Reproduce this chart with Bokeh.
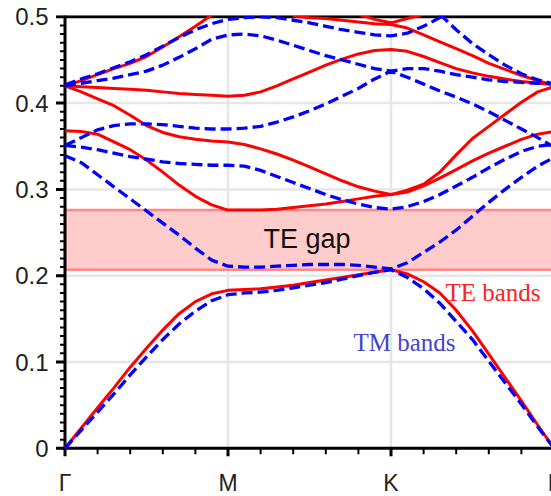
from bokeh.plotting import figure
from bokeh.models import Range1d
from bokeh.core.properties import value
from bokeh.embed import file_html
from bokeh.resources import INLINE

# Wave-vector path Γ -> M -> K -> Γ, each segment drawn with unit length
k = [0.0, 0.1, 0.2, 0.3, 0.4, 0.5, 0.6, 0.7, 0.8, 0.9,
     1.0, 1.1, 1.2, 1.3, 1.4, 1.5, 1.6, 1.7, 1.8, 1.9,
     2.0, 2.1, 2.2, 2.3, 2.4, 2.5, 2.6, 2.7, 2.8, 2.9, 3.0]
k_ticks = [0, 1, 2, 3]
k_labels = ["Γ", "M", "K", "Γ"]
freq_ticks = [0.0, 0.1, 0.2, 0.3, 0.4, 0.5]
freq_labels = ["0", "0.1", "0.2", "0.3", "0.4", "0.5"]

# TE bands (normalised frequency a/λ)
te_1 = [0.0, 0.0235, 0.047, 0.070, 0.094, 0.116, 0.137, 0.156, 0.170, 0.179,
        0.183, 0.184, 0.185, 0.187, 0.189, 0.192, 0.195, 0.198, 0.201, 0.204,
        0.207, 0.202, 0.193, 0.180, 0.160, 0.136, 0.109, 0.082, 0.055, 0.027, 0.0]
te_2 = [0.368, 0.367, 0.364, 0.355, 0.346, 0.334, 0.320, 0.305, 0.292, 0.282,
        0.276, 0.276, 0.276, 0.277, 0.279, 0.281, 0.283, 0.286, 0.289, 0.292,
        0.294, 0.297, 0.304, 0.313, 0.323, 0.333, 0.342, 0.350, 0.358, 0.364, 0.367]
te_3 = [0.420, 0.413, 0.405, 0.397, 0.386, 0.374, 0.366, 0.361, 0.358, 0.356,
        0.355, 0.352, 0.347, 0.341, 0.334, 0.326, 0.318, 0.310, 0.303, 0.298,
        0.294, 0.299, 0.306, 0.320, 0.340, 0.359, 0.373, 0.387, 0.401, 0.413, 0.419]
te_4 = [0.420, 0.419, 0.418, 0.417, 0.416, 0.415, 0.413, 0.411, 0.410, 0.409,
        0.408, 0.409, 0.413, 0.420, 0.428, 0.436, 0.444, 0.451, 0.457, 0.461,
        0.462, 0.460, 0.454, 0.447, 0.440, 0.435, 0.431, 0.428, 0.425, 0.423, 0.422]
te_5 = [0.420, 0.426, 0.433, 0.440, 0.446, 0.454, 0.465, 0.477, 0.489, 0.502, 0.515]
te_6 = [0.501, 0.499, 0.498, 0.496, 0.494, 0.492, 0.491, 0.487, 0.479, 0.471,
        0.463, 0.455, 0.446, 0.439, 0.432, 0.426, 0.421]
te_7 = [0.503, 0.497, 0.493, 0.498, 0.503]

# TM bands
tm_1 = [0.0, 0.021, 0.042, 0.063, 0.085, 0.106, 0.126, 0.144, 0.159, 0.171,
        0.178, 0.180, 0.181, 0.183, 0.186, 0.189, 0.192, 0.196, 0.200, 0.204,
        0.207, 0.198, 0.185, 0.168, 0.147, 0.126, 0.101, 0.076, 0.051, 0.025, 0.0]
tm_2 = [0.339, 0.331, 0.317, 0.303, 0.289, 0.275, 0.261, 0.247, 0.232, 0.218,
        0.211, 0.210, 0.210, 0.211, 0.212, 0.213, 0.213, 0.213, 0.212, 0.210,
        0.208, 0.215, 0.227, 0.239, 0.253, 0.269, 0.285, 0.300, 0.314, 0.327, 0.337]
tm_3 = [0.351, 0.349, 0.346, 0.342, 0.338, 0.335, 0.332, 0.330, 0.329, 0.328,
        0.328, 0.327, 0.322, 0.315, 0.308, 0.301, 0.294, 0.288, 0.283, 0.279,
        0.277, 0.280, 0.286, 0.294, 0.304, 0.314, 0.325, 0.335, 0.344, 0.350, 0.352]
tm_4 = [0.351, 0.360, 0.369, 0.374, 0.376, 0.376, 0.375, 0.373, 0.371, 0.370,
        0.370, 0.371, 0.373, 0.378, 0.384, 0.391, 0.399, 0.408, 0.417, 0.428,
        0.437, 0.430, 0.422, 0.414, 0.407, 0.399, 0.390, 0.380, 0.370, 0.360, 0.349]
tm_5 = [0.420, 0.423, 0.426, 0.429, 0.433, 0.437, 0.444, 0.453, 0.463, 0.474,
        0.479, 0.480, 0.478, 0.473, 0.467, 0.461, 0.455, 0.450, 0.445, 0.440,
        0.437, 0.440, 0.440, 0.437, 0.433, 0.430, 0.427, 0.425, 0.424, 0.423, 0.422]
tm_6 = [0.421, 0.428, 0.434, 0.441, 0.448, 0.456, 0.466, 0.476, 0.485, 0.492,
        0.497, 0.499, 0.500, 0.499, 0.496, 0.493, 0.489, 0.485, 0.482, 0.479,
        0.478, 0.481, 0.489, 0.499, 0.510]
tm_7 = [0.503, 0.485, 0.469, 0.456, 0.444, 0.434, 0.427, 0.422]

# Complete TE band gap
gap_low = 0.207
gap_high = 0.276

te_bands = [(k, te_1), (k, te_2), (k, te_3), (k, te_4),
            (k[0:11], te_5), (k[14:31], te_6), (k[18:23], te_7)]
tm_bands = [(k, tm_1), (k, tm_2), (k, tm_3), (k, tm_4), (k, tm_5),
            (k[0:25], tm_6), (k[23:31], tm_7)]

# --- layout: the frame fills the whole canvas; axes are drawn as glyphs ---
W, H = 551, 496
ox, oy = 64.5, 447.8          # canvas position of (k=0, f=0)
px_k, px_f = 163.0, 863.0     # pixels per unit of k and of f
x_rng = Range1d(-ox / px_k, (W - ox) / px_k)
y_rng = Range1d(-(H - oy) / px_f, oy / px_f)

p = figure(width=W, height=H, x_range=x_rng, y_range=y_rng,
           output_backend="svg", toolbar_location=None,
           min_border_left=0, min_border_right=0, min_border_top=0, min_border_bottom=0)
p.xaxis.visible = False
p.yaxis.visible = False
p.grid.visible = False
p.outline_line_color = None
p.background_fill_color = "white"
p.border_fill_color = "white"

k0, k1 = k[0], k[-1]
f0, f1 = freq_ticks[0], freq_ticks[-1]
grid_col = "#e6e6e6"

# grid lines
p.segment(x0=k0, x1=k1, y0=freq_ticks[1:5], y1=freq_ticks[1:5],
          line_color=grid_col, line_width=2.5, level="underlay")
p.segment(x0=k_ticks[1:3], x1=k_ticks[1:3], y0=f0, y1=f1,
          line_color=grid_col, line_width=2.5, level="underlay")

# band gap shading
p.quad(left=k0, right=k1, bottom=gap_low, top=gap_high,
       fill_color="#ffcccc", line_color="#ff8888", line_width=2.5)

# axis frame: left, bottom and top lines
p.segment(x0=[k0, k0, k0], x1=[k0, k1, k1], y0=[f0, f0, f1], y1=[f1, f0, f1],
          line_color="black", line_width=3, line_cap="square")

# ticks (pointing outwards)
minor_f = [i / 100 for i in range(51)]
minor_k = k[::2]
p.segment(x0=-9 / px_k, x1=k0, y0=freq_ticks, y1=freq_ticks, line_color="black", line_width=3)
p.segment(x0=-5 / px_k, x1=k0, y0=minor_f, y1=minor_f, line_color="black", line_width=2)
p.segment(x0=k_ticks, x1=k_ticks, y0=-8 / px_f, y1=f0, line_color="black", line_width=3)
p.segment(x0=minor_k, x1=minor_k, y0=-6 / px_f, y1=f0, line_color="black", line_width=2)

# bands
for xs, ys in te_bands:
    p.line(xs, ys, line_color="#ff0000", line_width=3)
for xs, ys in tm_bands:
    p.line(xs, ys, line_color="#0000ff", line_width=3.3, line_dash="11 5")

# blank out everything drawn above the top of the axis box
p.quad(left=x_rng.start, right=x_rng.end, bottom=f1 + 1.5 / px_f, top=y_rng.end,
       fill_color="white", line_color=None)

# tick labels
p.text(x=[-16.5 / px_k] * len(freq_ticks), y=freq_ticks, text=freq_labels,
       text_align="right", text_baseline="middle", text_font=value("Liberation Sans"),
       text_font_size=value("24px"), text_color="#222222")
p.text(x=k_ticks, y=[-35 / px_f] * len(k_ticks), text=k_labels,
       text_align="center", text_baseline="middle", text_font=value("Liberation Sans"),
       text_font_size=value("23px"), text_color="#222222")

# annotations
p.text(x=[1.485], y=[0.2431], text=["TE gap"], text_align="center", text_baseline="middle",
       text_font=value("Liberation Sans"), text_font_size=value("27px"), text_color="#111111")
p.text(x=[2.334], y=[0.1805], text=["TE bands"], text_align="left", text_baseline="middle",
       text_font=value("Liberation Serif"), text_font_size=value("25px"), text_color="#ff2020")
p.text(x=[1.770], y=[0.1227], text=["TM bands"], text_align="left", text_baseline="middle",
       text_font=value("Liberation Serif"), text_font_size=value("25px"), text_color="#4444cc")

open("out.html", "w").write(file_html(p, INLINE))
